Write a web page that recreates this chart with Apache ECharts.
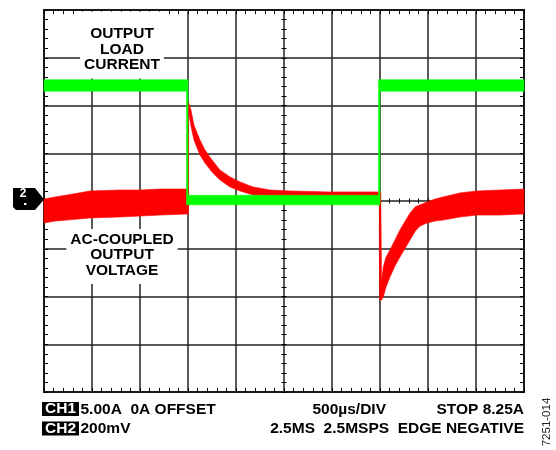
<!DOCTYPE html>
<html>
<head>
<meta charset="utf-8">
<script src="https://cdn.jsdelivr.net/npm/echarts@6/dist/echarts.min.js"></script>
<style>
  html, body { margin: 0; padding: 0; background: #fff; }
  #chart { width: 556px; height: 450px; }
</style>
</head>
<body>
<div id="chart"></div>
<script>
// time in µs (500 µs/div), CH1 load current in A (5 A/div), CH2 output voltage in mV (200 mV/div)
const ch1Upper = [[0, 12.7], [1500, 12.7], [1500, 0.6], [3485, 0.6], [3485, 12.7], [5000, 12.7]]
const ch1Lower = [[0, 11.5], [1485, 11.5], [1485, -0.4], [3500, -0.4], [3500, 11.5], [5000, 11.5]]

const ch2Upper = [
  [0, 8], [115, 17], [240, 25], [479, 42], [792, 46], [1000, 46], [1208, 50], [1490, 50],
  [1492, 415], [1505, 415], [1531, 381], [1562, 318], [1625, 255], [1677, 214], [1750, 172],
  [1833, 130], [1937, 101], [2042, 80], [2177, 59], [2354, 46], [2562, 42], [2979, 38], [3508, 38],
  [3516, -339], [3534, -276], [3563, -235], [3604, -205], [3656, -163], [3708, -121], [3813, -50],
  [3868, -24], [3990, -4], [4073, 8], [4156, 17], [4333, 34], [4510, 42], [4750, 46], [5000, 50]
]
const ch2Lower = [
  [0, -92], [115, -84], [240, -80], [479, -71], [792, -67], [1000, -63], [1208, -59], [1505, -54],
  [1507, 373], [1531, 314], [1562, 255], [1625, 193], [1677, 159], [1750, 121], [1833, 88],
  [1937, 59], [2042, 42], [2177, 25], [2354, 21], [2562, 17], [2979, 17], [3493, 17],
  [3495, -415], [3516, -415], [3534, -402], [3563, -360], [3604, -318], [3656, -272], [3708, -235],
  [3813, -163], [3868, -126], [3917, -105], [3990, -92], [4073, -84], [4156, -80], [4333, -67],
  [4510, -59], [4750, -59], [5000, -54]
]

const timeRange = [0, 5000, 500]
const ch1Range = [-20, 20, 5]
const ch2Range = [-800, 800, 200]

const chart = echarts.init(document.getElementById('chart'))

const tickLine = { color: '#000', width: 1 }

function axis(range, extra) {
  return Object.assign({
    type: 'value',
    min: range[0],
    max: range[1],
    interval: range[2],
    axisLine: { show: false, onZero: false },
    axisLabel: { show: false },
    axisTick: { show: true, inside: true, length: 4, lineStyle: tickLine },
    minorTick: { show: true, splitNumber: 5, length: 4, lineStyle: tickLine },
    splitLine: { show: false }
  }, extra)
}

function centerTicks(inside) {
  return {
    axisTick: { show: true, inside: inside, length: 2.5, lineStyle: tickLine },
    minorTick: { show: true, splitNumber: 5, length: 2.5, lineStyle: tickLine }
  }
}

function band(upper, lower, color, yIndex) {
  return {
    type: 'custom',
    yAxisIndex: yIndex,
    silent: true,
    data: [[0, 0]],
    renderItem: function (params, api) {
      const pts = upper.concat(lower.slice().reverse()).map((p) => api.coord(p))
      return {
        type: 'polygon',
        shape: { points: pts },
        style: { fill: color, stroke: color, lineWidth: 0.6 }
      }
    }
  }
}

const bold = 'bold 15.5px "Liberation Sans", Arial, sans-serif'

chart.setOption({
  animation: false,
  grid: { left: 44, right: 32, top: 10, bottom: 58, show: true, borderColor: '#000', borderWidth: 2, backgroundColor: 'transparent' },
  xAxis: [
    axis(timeRange, { position: 'bottom', splitLine: { show: true, lineStyle: { color: '#222', width: 1.5 } } }),
    axis(timeRange, { position: 'top' }),
    axis(timeRange, Object.assign({ position: 'bottom', offset: -191 }, centerTicks(true))),
    axis(timeRange, Object.assign({ position: 'bottom', offset: -191 }, centerTicks(false)))
  ],
  yAxis: [
    axis(ch1Range, { position: 'left', splitLine: { show: true, lineStyle: { color: '#222', width: 1.5 } } }),
    axis(ch2Range, { position: 'right' }),
    axis(ch1Range, Object.assign({ position: 'left', offset: -240 }, centerTicks(true))),
    axis(ch1Range, Object.assign({ position: 'left', offset: -240 }, centerTicks(false)))
  ],
  series: [
    band(ch2Upper, ch2Lower, '#ff0000', 1),
    band(ch1Upper, ch1Lower, '#00ff00', 0)
  ],
  graphic: [
    {
      type: 'text', x: 122, y: 11.5, z: 10,
      style: {
        text: 'OUTPUT\nLOAD\nCURRENT', font: bold, fill: '#000', align: 'center', verticalAlign: 'top',
        lineHeight: 15.5, backgroundColor: '#fff', padding: [14.5, 4, 6, 4]
      }
    },
    {
      type: 'text', x: 122, y: 229, z: 10,
      style: {
        text: 'AC-COUPLED\nOUTPUT\nVOLTAGE', font: bold, fill: '#000', align: 'center', verticalAlign: 'top',
        lineHeight: 15.5, backgroundColor: '#fff', padding: [2.5, 4, 6, 4]
      }
    },
    // channel 2 ground marker
    {
      type: 'polygon', z: 10,
      shape: { points: [[13, 188], [35, 188], [44, 199.5], [35, 210], [16, 210], [13, 207]] },
      style: { fill: '#000' }
    },
    {
      type: 'text', x: 23, y: 194, z: 11,
      style: { text: '2', font: 'bold 12px "Liberation Sans", Arial, sans-serif', fill: '#fff', align: 'center', verticalAlign: 'middle' }
    },
    { type: 'rect', z: 11, shape: { x: 24, y: 203, width: 2.5, height: 2 }, style: { fill: '#fff' } },
    // readout
    {
      type: 'text', x: 42, y: 402,
      style: { text: 'CH1', font: bold, fill: '#fff', backgroundColor: '#000', padding: [0, 3, 0, 3], lineHeight: 14, align: 'left', verticalAlign: 'top' }
    },
    {
      type: 'text', x: 42, y: 421.5,
      style: { text: 'CH2', font: bold, fill: '#fff', backgroundColor: '#000', padding: [0, 3, 0, 3], lineHeight: 14, align: 'left', verticalAlign: 'top' }
    },
    { type: 'text', x: 80.5, y: 409.5, style: { text: '5.00A  0A OFFSET', font: bold, fill: '#000', align: 'left', verticalAlign: 'middle' } },
    { type: 'text', x: 80.5, y: 428.5, style: { text: '200mV', font: bold, fill: '#000', align: 'left', verticalAlign: 'middle' } },
    { type: 'text', x: 386, y: 409.5, style: { text: '500µs/DIV', font: bold, fill: '#000', align: 'right', verticalAlign: 'middle' } },
    { type: 'text', x: 524, y: 409.5, style: { text: 'STOP 8.25A', font: bold, fill: '#000', align: 'right', verticalAlign: 'middle' } },
    { type: 'text', x: 524, y: 428.5, style: { text: '2.5MS  2.5MSPS  EDGE NEGATIVE', font: bold, fill: '#000', align: 'right', verticalAlign: 'middle' } },
    {
      type: 'text', x: 547, y: 422, rotation: Math.PI / 2,
      style: { text: '7251-014', font: '11.5px "Liberation Sans", Arial, sans-serif', fill: '#222', align: 'center', verticalAlign: 'middle' }
    }
  ]
})
</script>
</body>
</html>
